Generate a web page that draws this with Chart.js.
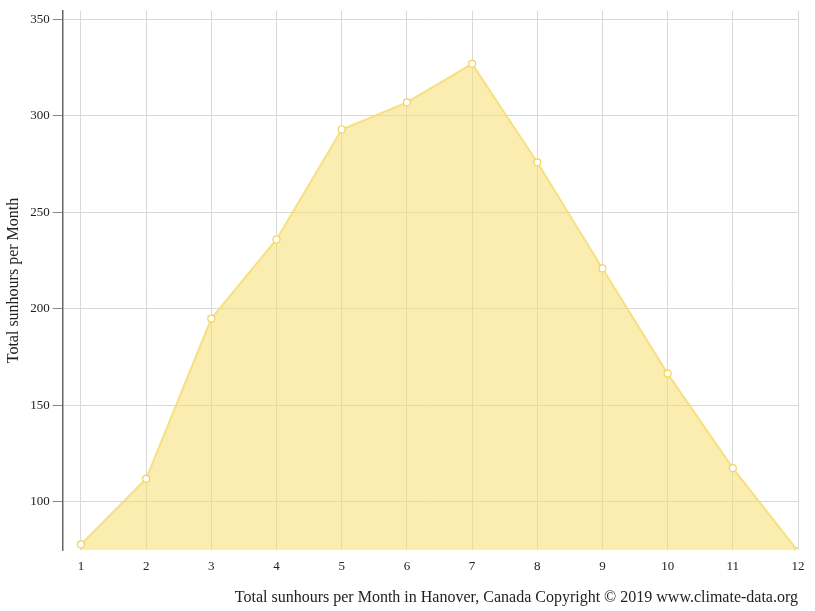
<!DOCTYPE html>
<html><head><meta charset="utf-8">
<script src="https://cdn.jsdelivr.net/npm/chart.js@4"></script>
<style>html,body{margin:0;padding:0;background:#fff}#w{width:815px;height:611px;position:relative}</style>
</head><body><div id="w"><canvas id="c" width="815" height="611"></canvas></div>
<script>
const months=[1,2,3,4,5,6,7,8,9,10,11,12];
const sunhours=[78,112,195,236,293,307,327,276,221,166.5,117.5,74.5];
const yTicks=[100,150,200,250,300,350];
const F="'Liberation Serif','DejaVu Serif',serif";
new Chart(document.getElementById('c'),{
type:'line',
data:{datasets:[{data:months.map((m,i)=>({x:m,y:sunhours[i]})),
fill:'start',backgroundColor:'rgba(245,222,110,0.55)',borderColor:'rgba(245,222,120,0.9)',borderWidth:2,
pointRadius:3.5,pointBackgroundColor:'#fff',pointBorderColor:'#f2d35a',pointBorderWidth:1.2,tension:0}]},
options:{responsive:false,animation:false,
layout:{padding:{top:10,right:17,left:0,bottom:0}},
plugins:{legend:{display:false},tooltip:{enabled:false}},
scales:{
x:{type:'linear',min:0.72,max:12,
afterBuildTicks:s=>{s.ticks=months.map(v=>({value:v}));},
grid:{color:'#d8d8d8',drawTicks:false},border:{display:false},
ticks:{color:'#222',font:{family:F,size:13},padding:9},
title:{display:true,text:'Total sunhours per Month in Hanover, Canada Copyright © 2019 www.climate-data.org',align:'end',color:'#222',font:{family:F,size:16},padding:{top:4,bottom:4}}},
y:{min:75,max:354.5,
afterBuildTicks:s=>{s.ticks=yTicks.map(v=>({value:v}));},
grid:{color:'#d8d8d8',tickLength:10,tickColor:'#888'},border:{display:true,color:'#666',width:1.5},
ticks:{color:'#222',font:{family:F,size:13},padding:3},
title:{display:true,text:'Total sunhours per Month',color:'#222',font:{family:F,size:16},padding:{bottom:4}}}
}}});
</script></body></html>
